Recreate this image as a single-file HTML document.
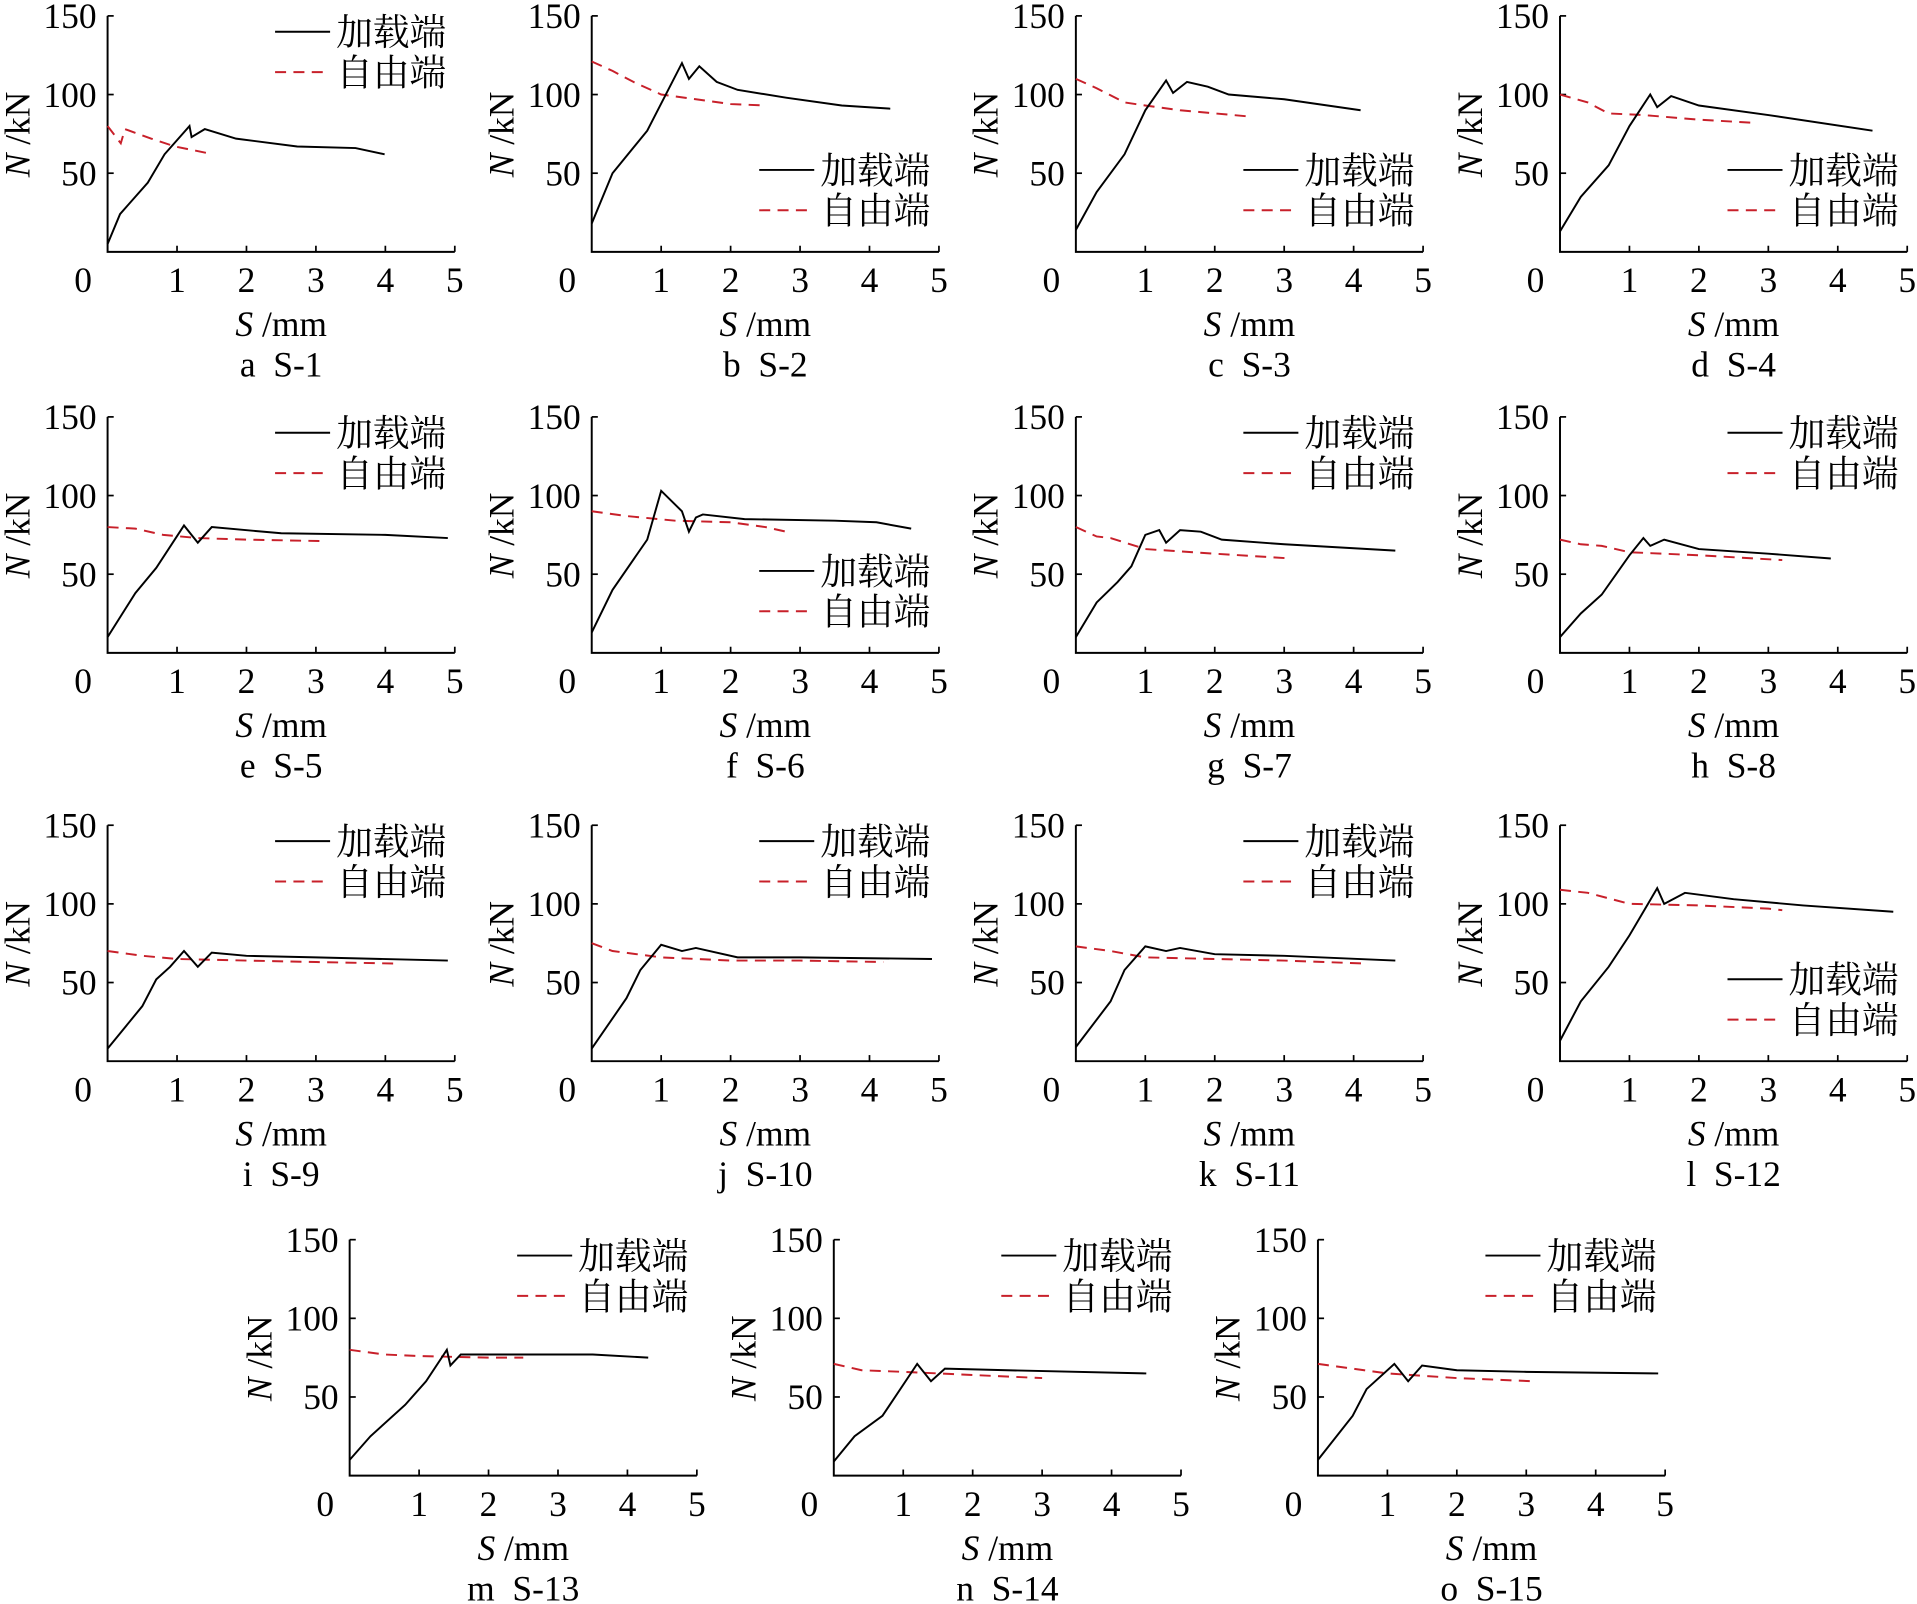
<!DOCTYPE html>
<html><head><meta charset="utf-8"><style>html,body{margin:0;padding:0;background:#fff}svg{display:block}</style></head>
<body>
<svg id="s" width="1917" height="1604" viewBox="0 0 1568 1312" preserveAspectRatio="none" xmlns="http://www.w3.org/2000/svg"></svg>
<script>
const P=[
['a S-1',88,206,0,[[0,5],[0.18,24],[0.58,44],[0.82,62],[1.18,80],[1.21,73],[1.4,78],[1.85,72],[2.73,67],[3.57,66],[3.99,62]],[[0,80],[0.19,69],[0.25,78],[0.63,72],[0.97,67],[1.47,62.5]]],
['b S-2',484,206,1,[[0,18],[0.3,50],[0.8,77],[1.3,120],[1.4,110],[1.55,118],[1.8,108],[2.1,103],[2.8,98],[3.6,93],[4.3,91]],[[0,121],[0.3,115],[0.6,108],[1,100],[1.5,97],[2,94],[2.5,93]]],
['c S-3',880,206,1,[[0,14],[0.3,38],[0.7,62],[1,90],[1.3,109],[1.4,101],[1.6,108],[1.9,105],[2.2,100],[3,97],[4.1,90]],[[0,110],[0.3,104],[0.7,95],[1,93],[1.5,90],[2.5,86]]],
['d S-4',1276,206,1,[[0,13],[0.3,35],[0.7,55],[1,80],[1.3,100],[1.4,92],[1.6,99],[2,93],[3,87],[4.5,77]],[[0,100],[0.4,95],[0.7,88],[1.2,87],[2,84],[2.8,82]]],
['e S-5',88,534,0,[[0,10],[0.4,38],[0.7,54],[1.1,81],[1.3,70],[1.5,80],[2.5,76],[4,75],[4.9,73]],[[0,80],[0.4,79],[0.8,75],[1.3,73],[2,72],[3.1,71]]],
['f S-6',484,534,1,[[0,13],[0.3,40],[0.8,72],[1,103],[1.3,90],[1.4,77],[1.5,86],[1.6,88],[2.2,85],[3.5,84],[4.1,83],[4.6,79]],[[0,90],[0.5,87],[1.2,84],[2,83],[2.5,80],[2.8,77]]],
['g S-7',880,534,0,[[0,10],[0.3,32],[0.6,45],[0.8,55],[1,75],[1.2,78],[1.3,70],[1.5,78],[1.8,77],[2.1,72],[3,69],[4.6,65]],[[0,80],[0.3,74],[0.5,73],[1,66],[2,63],[3.1,60]]],
['h S-8',1276,534,0,[[0,10],[0.3,25],[0.6,37],[1,62],[1.2,73],[1.3,68],[1.5,72],[2,66],[3,63],[3.9,60]],[[0,72],[0.3,69],[0.6,68],[1,64],[2,62],[3.2,59]]],
['i S-9',88,868,0,[[0,8],[0.5,35],[0.7,52],[0.9,60],[1.1,70],[1.3,60],[1.5,69],[2,67],[3,66],[4.9,64]],[[0,70],[0.5,67],[1,65],[2,64],[3,63],[4.2,62]]],
['j S-10',484,868,0,[[0,8],[0.5,40],[0.7,58],[1,74],[1.3,70],[1.5,72],[2.1,66],[3,66],[4.9,65]],[[0,75],[0.3,70],[1,66],[2,64],[3,64],[4.2,63]]],
['k S-11',880,868,0,[[0,9],[0.5,38],[0.7,58],[1,73],[1.3,70],[1.5,72],[2,68],[3,67],[4.6,64]],[[0,73],[0.5,70],[1,66],[2,65],[3,64],[4.2,62]]],
['l S-12',1276,868,1,[[0,13],[0.3,38],[0.7,60],[1,80],[1.4,110],[1.5,100],[1.8,107],[2.5,103],[3.5,99],[4.8,95]],[[0,109],[0.4,107],[1,100],[2,99],[3,97],[3.2,96]]],
['m S-13',286,1207,0,[[0,10],[0.3,25],[0.8,45],[1.1,60],[1.4,80],[1.45,70],[1.6,77],[2.5,77],[3.5,77],[4.3,75]],[[0,80],[0.5,77],[1,76],[2,75],[2.5,75]]],
['n S-14',682,1207,0,[[0,9],[0.3,25],[0.7,38],[1.2,71],[1.4,60],[1.6,68],[2.5,67],[4.5,65]],[[0,71],[0.4,67],[1,66],[2,64],[3,62]]],
['o S-15',1078,1207,0,[[0,10],[0.5,38],[0.7,55],[1.1,71],[1.3,60],[1.5,70],[2,67],[3,66],[4.9,65]],[[0,71],[0.5,68],[1,65],[2,62],[3.1,60]]]
];
const F='font-family="Liberation Serif, Noto Serif CJK SC, serif"';
const C='font-family="Liberation Serif, Noto Serif CJK SC, Noto Sans CJK SC, serif"';
let h='';
for(const [cap,ox,oy,low,L,Fr] of P){
 const xs=56.8, ys=193/150;
 const X=v=>ox+v*xs, Y=v=>oy-v*ys;
 const top=oy-193;
 h+=`<path d="M${ox} ${top}V${oy}H${X(5)}" fill="none" stroke="#000" stroke-width="1.6"/>`;
 for(let i=1;i<=5;i++)h+=`<path d="M${X(i)} ${oy}v-5" stroke="#000" stroke-width="1.4"/>`;
 for(let v of [50,100,150])h+=`<path d="M${ox} ${Y(v)}h5" stroke="#000" stroke-width="1.4"/>`;
 for(let i=0;i<=5;i++)h+=`<text x="${i==0?ox-20:X(i)}" y="${oy+33}" font-size="29" text-anchor="middle" ${F}>${i}</text>`;
 for(let v of [50,100,150])h+=`<text x="${ox-9}" y="${Y(v)+10}" font-size="29" text-anchor="end" ${F}>${v}</text>`;
 h+=`<text transform="translate(${ox-64},${oy-96}) rotate(-90)" font-size="29" text-anchor="middle" ${F}><tspan font-style="italic">N</tspan> /kN</text>`;
 h+=`<text x="${ox+142}" y="${oy+69}" font-size="29" text-anchor="middle" ${F}><tspan font-style="italic">S</tspan> /mm</text>`;
 h+=`<text x="${ox+142}" y="${oy+102}" font-size="29" text-anchor="middle" ${F} xml:space="preserve">${cap.replace(' ','  ')}</text>`;
 const pts=a=>a.map(p=>X(p[0]).toFixed(1)+','+Y(p[1]).toFixed(1)).join(' ');
 h+=`<polyline points="${pts(Fr)}" fill="none" stroke="#c8202a" stroke-width="1.6" stroke-dasharray="9,6"/>`;
 h+=`<polyline points="${pts(L)}" fill="none" stroke="#000" stroke-width="1.6"/>`;
 const ly=top+(low?126:13);
 h+=`<path d="M${ox+137} ${ly}h45" stroke="#000" stroke-width="1.6"/>`;
 h+=`<path d="M${ox+137} ${ly+33}h45" stroke="#c8202a" stroke-width="1.6" stroke-dasharray="9,6"/>`;
 h+=`<text x="${ox+187}" y="${ly+11}" font-size="30" ${C}>加载端</text>`;
 h+=`<text x="${ox+187}" y="${ly+44}" font-size="30" ${C}>自由端</text>`;
}
document.getElementById('s').innerHTML=h;
</script>
</body></html>
